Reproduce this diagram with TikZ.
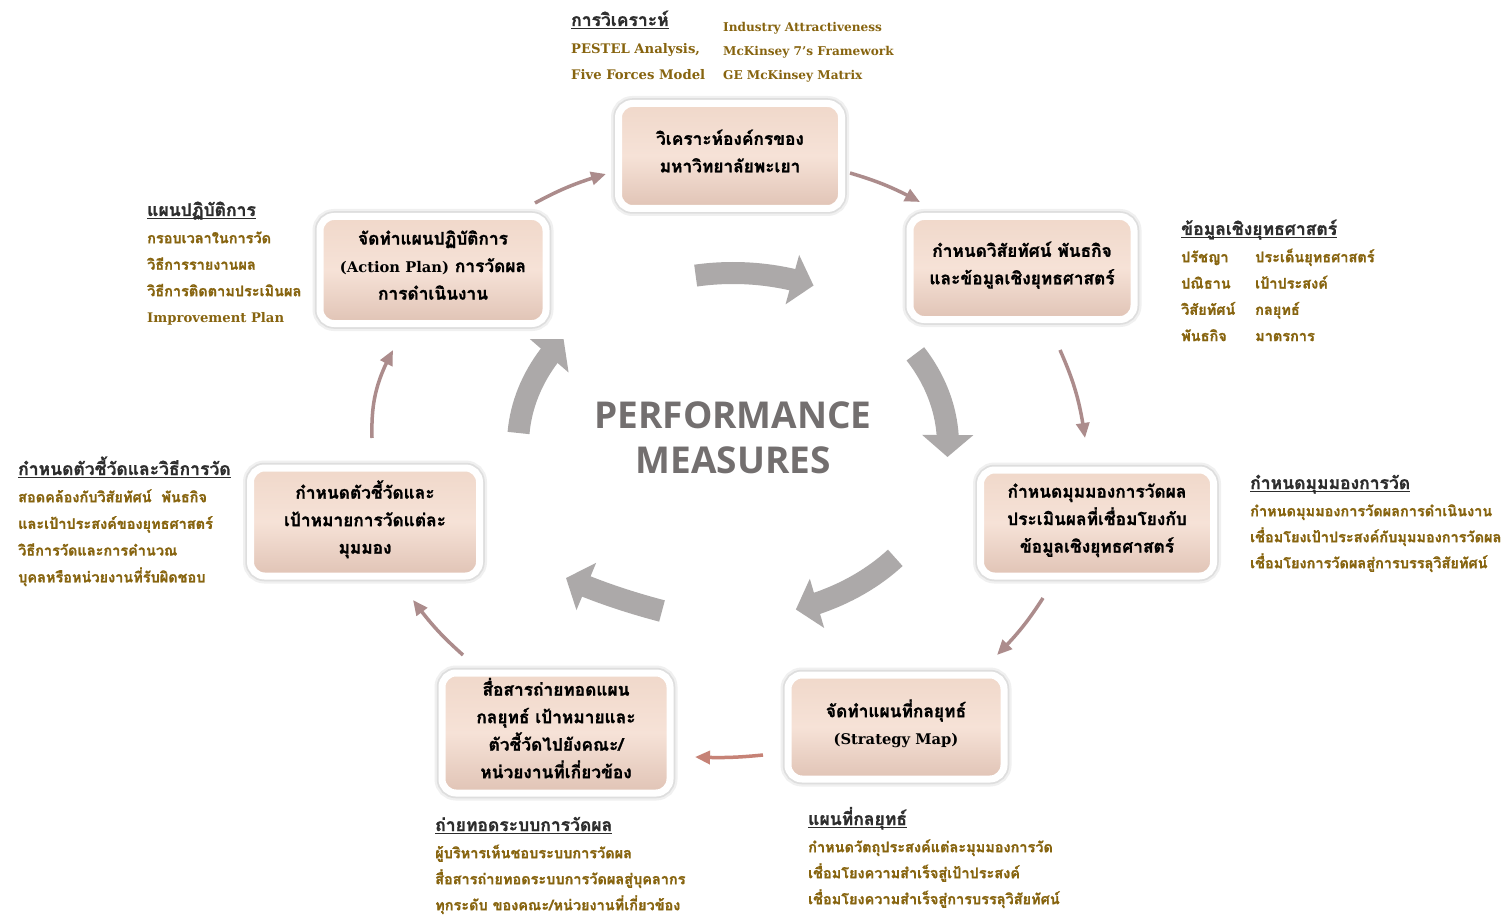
\documentclass[tikz,border=0pt]{standalone}
\usepackage{fontspec}
\setmainfont{Loma}[Script=Thai, BoldFeatures={FakeBold=1.2}]
\newfontfamily\lat{DejaVu Serif}
\newfontfamily\titlefont{Open Sans}
\usetikzlibrary{arrows.meta,bending,calc}
\definecolor{annc}{RGB}{135,100,15}
\definecolor{headc}{RGB}{45,45,45}
\definecolor{bigc}{RGB}{172,169,169}
\definecolor{thinc}{RGB}{172,140,140}
\definecolor{thinr}{RGB}{198,130,118}
\definecolor{pinkt}{RGB}{240,216,202}
\definecolor{pinkm}{RGB}{246,226,215}
\definecolor{pinkb}{RGB}{224,195,181}
\definecolor{titlec}{RGB}{115,111,111}
\newcommand\hul[1]{\setbox0=\hbox{#1}\rlap{\rule[-3pt]{\wd0}{1.1pt}}\box0}
\newcommand\firstln{\rule{0pt}{20pt}}
\newcommand\dpfix{\rule[-10pt]{0pt}{10pt}}
\begin{document}
\begin{tikzpicture}[x=1pt,y=-1pt,
  stepbox/.style={rounded corners=14pt, draw=white, line width=7pt,
    top color=pinkt, bottom color=pinkb, middle color=pinkm,
    preaction={draw=black!6, line width=15pt},
    preaction={draw=black!13, line width=10.5pt},
    align=center, font=\bfseries\fontsize{17.3}{27.5}\selectfont, text=black, inner sep=0pt},
  heading/.style={anchor=base west, inner sep=0pt, text=headc, font=\bfseries\fontsize{17.5}{20}\selectfont},
  ann/.style={anchor=north west, inner sep=0pt, align=left, text=annc, font=\bfseries\fontsize{14.5}{26.5}\selectfont},
  latann/.style={anchor=north west, inner sep=0pt, align=left, text=annc, font=\lat\bfseries\fontsize{13.2}{26}\selectfont},
  bigarrow/.style={draw=bigc, line width=22pt, -{Triangle[length=22pt,width=50pt]}},
  thinarrow/.style={draw=thinc, line width=3.5pt, -{Triangle[length=15pt,width=13pt]}},
  title/.style={align=center, text=titlec, font=\titlefont\bfseries\fontsize{37}{45}\selectfont, inner sep=0pt}
]
\useasboundingbox (0,0) rectangle (1506,917);
\fill[white] (0,0) rectangle (1506,917);

% ring of big arrows
\coordinate (ring) at (733,445);
\draw[bigarrow] ($(ring)+(260:215 and 172)$) arc[start angle=260,end angle=292,x radius=215,y radius=172];
\draw[bigarrow] ($(ring)+(328:215 and 172)$) arc[start angle=328,end angle=364,x radius=215,y radius=172];
\draw[bigarrow] ($(ring)+(41:215 and 172)$) arc[start angle=41,end angle=73,x radius=215,y radius=172];
\coordinate (blS) at (662,611);
\coordinate (blE) at (566,578);
\draw[bigarrow] (blS) .. controls (628,602) and (598,592) .. (blE);
\draw[bigarrow] ($(ring)+(184:215 and 172)$) arc[start angle=184,end angle=218,x radius=215,y radius=172];

\node[title] (t) at (733,438) {PERFORMANCE\\MEASURES};

% boxes
\node[stepbox, minimum width=223pt, minimum height=105pt] (b1) at (730,156) {วิเคราะห์องค์กรของ\\มหาวิทยาลัยพะเยา\dpfix};
\node[stepbox, minimum width=224pt, minimum height=103pt] (b2) at (1022,268) {กำหนดวิสัยทัศน์ พันธกิจ\\และข้อมูลเชิงยุทธศาสตร์\dpfix};
\node[stepbox, minimum width=233pt, minimum height=106pt] (b3) at (1097,523) {กำหนดมุมมองการวัดผล\\ประเมินผลที่เชื่อมโยงกับ\\ข้อมูลเชิงยุทธศาสตร์\dpfix};
\node[stepbox, minimum width=216pt, minimum height=104pt] (b4) at (896,727) {จัดทำแผนที่กลยุทธ์\\{\lat\bfseries\fontsize{14.7}{27.5}\selectfont (Strategy Map)}\dpfix};
\node[stepbox, minimum width=228pt, minimum height=120pt] (b5) at (556,733) {สื่อสารถ่ายทอดแผน\\กลยุทธ์ เป้าหมายและ\\ตัวชี้วัดไปยังคณะ/\\หน่วยงานที่เกี่ยวข้อง\dpfix};
\node[stepbox, minimum width=229pt, minimum height=108pt] (b6) at (365,522) {กำหนดตัวชี้วัดและ\\เป้าหมายการวัดแต่ละ\\มุมมอง\dpfix};
\node[stepbox, minimum width=226pt, minimum height=107pt] (b7) at (433,270) {จัดทำแผนปฏิบัติการ\\{\lat\bfseries\fontsize{14.7}{27.5}\selectfont (Action Plan)} การวัดผล\\การดำเนินงาน\dpfix};

% thin connectors
\coordinate (a1s) at (535,203); \coordinate (a1e) at (606,174);
\coordinate (a2s) at (850,173); \coordinate (a2e) at (920,202);
\coordinate (a3s) at (1060,350); \coordinate (a3e) at (1085,438);
\coordinate (a4s) at (1043,598); \coordinate (a4e) at (997,655);
\coordinate (a5s) at (763,755); \coordinate (a5e) at (695,757);
\coordinate (a6s) at (463,655); \coordinate (a6e) at (413,600);
\coordinate (a7s) at (372,438); \coordinate (a7e) at (393,350);
\draw[thinarrow] (a1s) to[bend left=6] (a1e);
\draw[thinarrow] (a2s) to[bend left=6] (a2e);
\draw[thinarrow] (a3s) to[bend left=8] (a3e);
\draw[thinarrow] (a4s) to[bend left=6] (a4e);
\draw[thinarrow, draw=thinr] (a5s) to[bend left=4] (a5e);
\draw[thinarrow] (a6s) to[bend left=6] (a6e);
\draw[thinarrow] (a7s) to[bend left=15] (a7e);

% annotations: top
\node[heading] (h1) at (571,26) {\hul{การวิเคราะห์}};
\node[latann] (l1a) at (571,33) {\firstln PESTEL Analysis,\\Five Forces Model};
\node[latann, font=\lat\bfseries\fontsize{12.1}{24}\selectfont] (l1b) at (723,11.5) {\firstln Industry Attractiveness\\McKinsey 7’s Framework\\GE McKinsey Matrix};

% upper left
\node[heading] (h7) at (147,216) {\hul{แผนปฏิบัติการ}};
\node[ann] (l7) at (147,223) {\firstln กรอบเวลาในการวัด\\วิธีการรายงานผล\\วิธีการติดตามประเมินผล\\{\lat\bfseries\fontsize{13.2}{26.5}\selectfont Improvement Plan}};

% right
\node[heading] (h2) at (1181,235) {\hul{ข้อมูลเชิงยุทธศาสตร์}};
\node[ann, font=\bfseries\fontsize{14.5}{26.3}\selectfont] (l2a) at (1181,242) {\firstln ปรัชญา\\ปณิธาน\\วิสัยทัศน์\\พันธกิจ};
\node[ann, font=\bfseries\fontsize{14.5}{26.3}\selectfont] (l2b) at (1255,242) {\firstln ประเด็นยุทธศาสตร์\\เป้าประสงค์\\กลยุทธ์\\มาตรการ};

% left
\node[heading] (h6) at (18,475) {\hul{กำหนดตัวชี้วัดและวิธีการวัด}};
\node[ann, font=\bfseries\fontsize{14.5}{26.7}\selectfont] (l6) at (18,482) {\firstln สอดคล้องกับวิสัยทัศน์\ \ พันธกิจ\\และเป้าประสงค์ของยุทธศาสตร์\\วิธีการวัดและการคำนวณ\\บุคลหรือหน่วยงานที่รับผิดชอบ};

% right lower
\node[heading] (h3) at (1250,489) {\hul{กำหนดมุมมองการวัด}};
\node[ann, font=\bfseries\fontsize{14.5}{26}\selectfont] (l3) at (1250,496) {\firstln กำหนดมุมมองการวัดผลการดำเนินงาน\\เชื่อมโยงเป้าประสงค์กับมุมมองการวัดผล\\เชื่อมโยงการวัดผลสู่การบรรลุวิสัยทัศน์};

% bottom left
\node[heading] (h5) at (435,831) {\hul{ถ่ายทอดระบบการวัดผล}};
\node[ann, font=\bfseries\fontsize{14.5}{26}\selectfont] (l5) at (435,838) {\firstln ผู้บริหารเห็นชอบระบบการวัดผล\\สื่อสารถ่ายทอดระบบการวัดผลสู่บุคลากร\\ทุกระดับ ของคณะ/หน่วยงานที่เกี่ยวข้อง};

% bottom right
\node[heading] (h4) at (808,825) {\hul{แผนที่กลยุทธ์}};
\node[ann, font=\bfseries\fontsize{14.5}{26}\selectfont] (l4) at (808,832) {\firstln กำหนดวัตถุประสงค์แต่ละมุมมองการวัด\\เชื่อมโยงความสำเร็จสู่เป้าประสงค์\\เชื่อมโยงความสำเร็จสู่การบรรลุวิสัยทัศน์};
\end{tikzpicture}
\end{document}
